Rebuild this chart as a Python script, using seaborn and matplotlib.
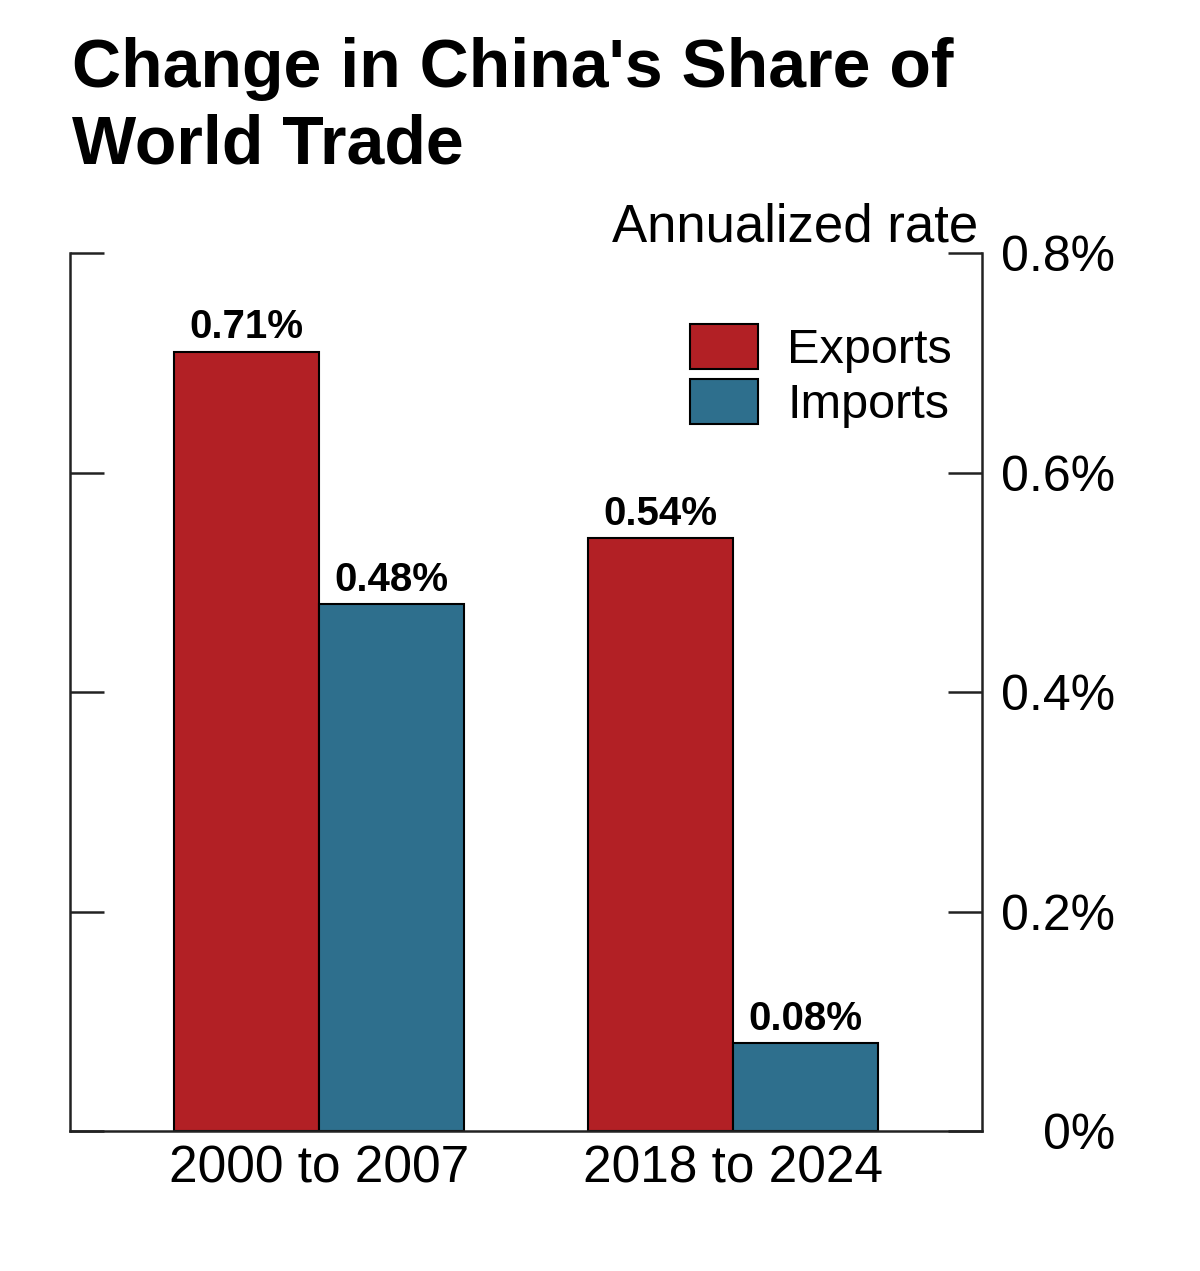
import pandas as pd
import matplotlib.pyplot as plt
import seaborn as sns

periods = ["2000 to 2007", "2018 to 2024"]
series = ["Exports", "Imports"]
exports = [0.71, 0.54]
imports = [0.48, 0.08]
colors = {"Exports": "#B22025", "Imports": "#2E6F8D"}
yticks = [0, 0.2, 0.4, 0.6, 0.8]
ytick_labels = ["0%", "0.2%", "0.4%", "0.6%", "0.8%"]

df = pd.DataFrame({
    "period": periods * 2,
    "flow": ["Exports"] * len(periods) + ["Imports"] * len(periods),
    "value": exports + imports,
})

sns.set_style("white")
plt.rcParams["font.family"] = ["Liberation Sans", "DejaVu Sans"]
plt.rcParams["text.color"] = "black"
plt.rcParams["xtick.color"] = "black"
plt.rcParams["ytick.color"] = "black"

fig = plt.figure(figsize=(12, 12.71), dpi=100)
ax = fig.add_axes([0.0583, 0.1101, 0.76, 0.6908])

sns.barplot(data=df, x="period", y="value", hue="flow", hue_order=series,
            palette=colors, width=0.7, saturation=1, edgecolor="black",
            linewidth=1.5, ax=ax)

ax.set_xlim(-0.6, 1.6)
ax.set_ylim(0, 0.8)
ax.set_xlabel("")
ax.set_ylabel("")
ax.set_yticks(yticks)
ax.set_yticklabels(ytick_labels)

for side in ["left", "right", "bottom"]:
    ax.spines[side].set_visible(True)
    ax.spines[side].set_color("#222222")
    ax.spines[side].set_linewidth(1.8)
ax.spines["top"].set_visible(False)

ax.tick_params(axis="y", left=True, right=True, labelleft=False, labelright=True,
               direction="in", length=24.5, width=1.8, color="#222222",
               labelcolor="black", labelsize=36, pad=96)
for lbl in ax.get_yticklabels():
    lbl.set_ha("right")
ax.tick_params(axis="x", length=0, labelsize=37, labelcolor="black", pad=10)

# valeurs au-dessus des barres
for c in ax.containers:
    ax.bar_label(c, fmt="%.2f%%", padding=4, fontsize=29, fontweight="bold", color="black")

handles, labels = ax.get_legend_handles_labels()
ax.legend(handles, labels, loc="upper left",
          bbox_to_anchor=(690 / 1200, 1 - 324 / 1271), bbox_transform=fig.transFigure,
          frameon=False, fontsize=35, handlelength=1.4, handleheight=1.05,
          handletextpad=0.6, labelspacing=0.12, borderpad=0, borderaxespad=0)

fig.text(978 / 1200, 1 - 242 / 1271, "Annualized rate", ha="right", va="baseline", fontsize=38)
fig.text(72 / 1200, 1 - 37 / 1271, "Change in China's Share of\nWorld Trade", fontsize=49,
         fontweight="bold", ha="left", va="top", linespacing=1.25)

fig.savefig("out.png", dpi=100)
